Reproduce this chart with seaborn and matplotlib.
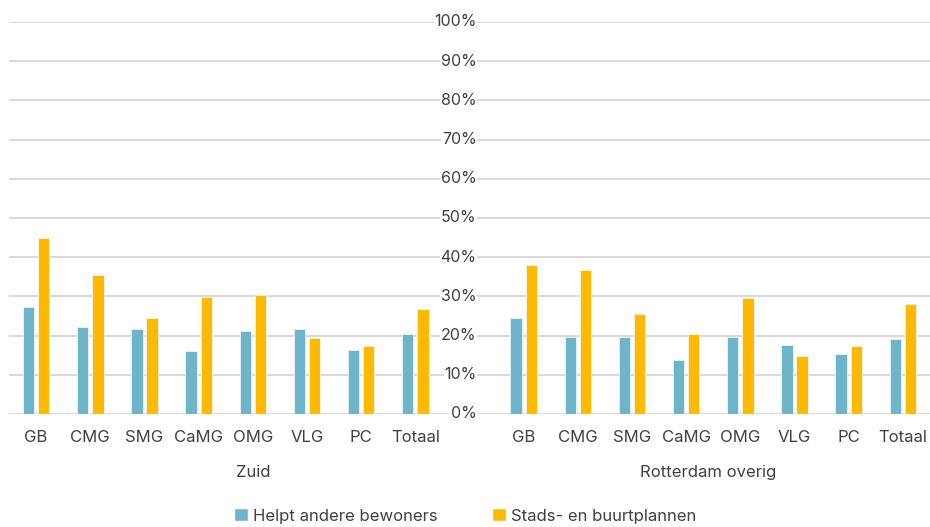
import numpy as np
import pandas as pd
import seaborn as sns
import matplotlib.pyplot as plt
from matplotlib.patches import Patch

categories = ["GB", "CMG", "SMG", "CaMG", "OMG", "VLG", "PC", "Totaal"]
groups = ["Zuid", "Rotterdam overig"]
series = ["Helpt andere bewoners", "Stads- en buurtplannen"]

zuid_helpt = [27.4, 22.2, 21.6, 16.0, 21.3, 21.6, 16.2, 20.5]
zuid_plannen = [44.9, 35.4, 24.5, 29.9, 30.4, 19.4, 17.4, 26.9]
rest_helpt = [24.5, 19.7, 19.7, 13.8, 19.7, 17.5, 15.4, 19.2]
rest_plannen = [37.9, 36.7, 25.5, 20.3, 29.5, 14.9, 17.4, 28.1]

colors = ["#6FB5CA", "#FFBA00"]
text_color = "#404040"

# slot positions: 0-7 for Zuid, 8 empty (axis), 9-16 for Rotterdam overig
pos = {"Zuid": list(range(8)), "Rotterdam overig": list(range(9, 17))}
rows = []
for g, h, p in [("Zuid", zuid_helpt, zuid_plannen), ("Rotterdam overig", rest_helpt, rest_plannen)]:
    for i, c in enumerate(categories):
        rows.append({"slot": pos[g][i], "cat": c, "group": g, "serie": series[0], "value": h[i]})
        rows.append({"slot": pos[g][i], "cat": c, "group": g, "serie": series[1], "value": p[i]})
df = pd.DataFrame(rows)

sns.set_style("white")
plt.rcParams["font.family"] = ["Inter", "DejaVu Sans"]

fig = plt.figure(figsize=(9.3, 5.27), dpi=100)
ax = fig.add_axes([9 / 930, 1 - 414 / 527, 921 / 930, 392 / 527])

sns.barplot(data=df, x="slot", y="value", hue="serie", hue_order=series,
            palette=colors, saturation=1, native_scale=True, width=0.56, gap=0.25,
            edgecolor="#EAF4F7", linewidth=0.6, legend=False, ax=ax)

ax.set_xlim(-0.5, 16.5)
ax.set_ylim(0, 100)
ax.set_yticks(np.arange(0, 101, 10))
ax.yaxis.grid(True, color="#D9D9D9", linewidth=1.4)
ax.set_axisbelow(True)
ax.tick_params(left=False, labelleft=False, bottom=False, labelbottom=False)
for s in ax.spines.values():
    s.set_visible(False)
ax.set_xlabel("")
ax.set_ylabel("")

fs = 12
# value axis labels sitting between the two groups
for v in range(0, 101, 10):
    ax.text(8.13, v, f"{v}%", ha="right", va="center", fontsize=11.5, color=text_color,
            bbox=dict(facecolor="white", edgecolor="none", pad=0.5))

# category labels and group labels
for g in groups:
    for i, c in enumerate(categories):
        ax.text(pos[g][i], -6, c, ha="center", va="center", fontsize=fs, color=text_color)
ax.text(4, -14.8, "Zuid", ha="center", va="center", fontsize=fs, color=text_color)
ax.text(12.4, -14.8, "Rotterdam overig", ha="center", va="center", fontsize=fs, color=text_color)

handles = [Patch(facecolor=colors[0]), Patch(facecolor=colors[1])]
fig.legend(handles, series, loc="center", bbox_to_anchor=(0.5, 1 - 516 / 527), ncol=2,
           frameon=False, fontsize=fs, handlelength=0.8, handleheight=0.8,
           handletextpad=0.3, columnspacing=3.3, labelcolor=text_color)

fig.savefig("out.png", dpi=100)
